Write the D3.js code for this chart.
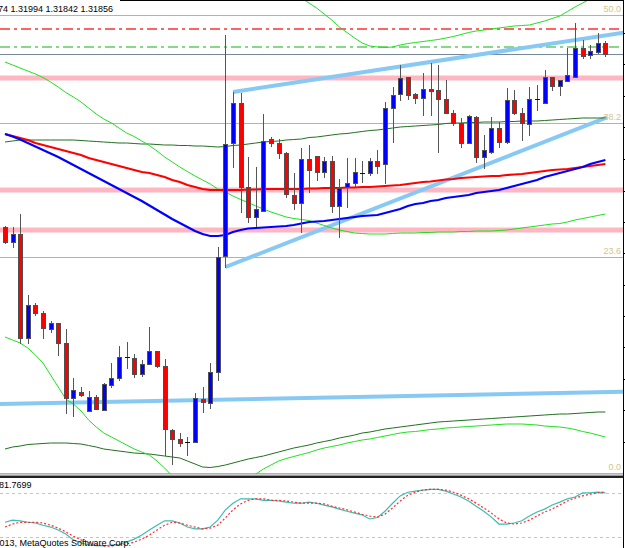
<!DOCTYPE html>
<html>
<head>
<meta charset="utf-8">
<script src="https://cdn.jsdelivr.net/npm/d3@7"></script>
<style>
  body { margin: 0; background: #fff; overflow: hidden; }
  svg { display: block; }
</style>
</head>
<body>
<div class="container"></div>
<script>
// EURUSD H4 bars, oldest first
const opens = [1.3013,1.2998,1.3006,1.2902,1.2935,1.2927,1.2911,1.2917,1.2897,1.2842,
  1.2848,1.2829,1.2843,1.2830,1.2855,1.2862,1.2883,1.2882,1.2866,1.2876,
  1.2889,1.2874,1.2810,1.2801,1.2798,1.2798,1.2841,1.2837,1.2868,1.2984,
  1.3097,1.3137,1.3053,1.3023,1.3029,1.3101,1.3097,1.3087,1.3045,1.3037,
  1.3081,1.3084,1.3068,1.3079,1.3034,1.3053,1.3057,1.3067,1.3067,1.3079,
  1.3076,1.3132,1.3146,1.3163,1.3146,1.3142,1.3151,1.3150,1.3141,1.3127,
  1.3117,1.3097,1.3123,1.3083,1.3088,1.3112,1.3098,1.3140,1.3127,1.3116,
  1.3141,1.3137,1.3163,1.3154,1.3159,1.3163,1.3192,1.3185,1.3188,1.31974];
const highs = [1.3014,1.3013,1.3026,1.2945,1.2937,1.2929,1.2919,1.2917,1.2911,1.2862,
  1.2853,1.2849,1.2845,1.2857,1.2877,1.2894,1.2898,1.2886,1.2880,1.2913,
  1.2889,1.2881,1.2811,1.2807,1.2803,1.2847,1.2853,1.2877,1.2993,1.3205,
  1.3148,1.3147,1.3083,1.3073,1.3126,1.3103,1.3101,1.3088,1.3067,1.3092,
  1.3095,1.3084,1.3083,1.3084,1.3061,1.3082,1.3082,1.3079,1.3082,1.3090,
  1.3138,1.3153,1.3175,1.3163,1.3147,1.3167,1.3177,1.3175,1.3160,1.3130,
  1.3122,1.3125,1.3124,1.3105,1.3123,1.3118,1.3152,1.3150,1.3132,1.3153,
  1.3155,1.3170,1.3163,1.3160,1.3192,1.3217,1.3200,1.3195,1.3207,1.31994];
const lows = [1.2997,1.2993,1.2897,1.2897,1.2925,1.2902,1.2908,1.2885,1.2827,1.2824,
  1.2844,1.2829,1.2831,1.2830,1.2853,1.2860,1.2872,1.2863,1.2864,1.2876,
  1.2873,1.2785,1.2776,1.2794,1.2785,1.2798,1.2828,1.2832,1.2860,1.2973,
  1.3073,1.3028,1.3018,1.3014,1.3029,1.3094,1.3082,1.3043,1.3031,1.3008,
  1.3048,1.3060,1.3063,1.3028,1.3003,1.3033,1.3053,1.3058,1.3065,1.3067,
  1.3057,1.3098,1.3140,1.3141,1.3137,1.3125,1.3125,1.3088,1.3127,1.3115,
  1.3093,1.3097,1.3078,1.3072,1.3087,1.3093,1.3097,1.3126,1.3100,1.3105,
  1.3130,1.3137,1.3150,1.3145,1.3159,1.3163,1.3182,1.3182,1.3187,1.31842];
const closes = [1.2998,1.3006,1.2902,1.2935,1.2927,1.2912,1.2917,1.2897,1.2842,1.2850,
  1.2845,1.2843,1.2831,1.2856,1.2862,1.2883,1.2882,1.2866,1.2876,1.2889,
  1.2874,1.2811,1.2801,1.2797,1.2797,1.2842,1.2838,1.2868,1.2983,1.3096,
  1.3137,1.3053,1.3023,1.3031,1.3099,1.3097,1.3087,1.3046,1.3037,1.3081,
  1.3070,1.3068,1.3079,1.3034,1.3052,1.3057,1.3068,1.3067,1.3079,1.3074,
  1.3132,1.3145,1.3162,1.3145,1.3142,1.3151,1.3149,1.3141,1.3127,1.3117,
  1.3097,1.3124,1.3083,1.3090,1.3112,1.3098,1.3140,1.3127,1.3117,1.3141,
  1.3141,1.3163,1.3154,1.3160,1.3165,1.3192,1.3184,1.3189,1.3197,1.31856];

// moving averages
const redMA = [1.3106,1.3104,1.3102,1.3100,1.3097,1.3095,1.3093,1.3091,1.3089,1.3087,
  1.3085,1.3082,1.3080,1.3078,1.3076,1.3074,1.3072,1.3070,1.3068,1.3067,
  1.3065,1.3063,1.3060,1.3058,1.3055,1.3053,1.3051,1.3050,1.3050,1.3050,
  1.3050,1.3050,1.30505,1.30505,1.3051,1.3051,1.3051,1.3051,1.3051,1.3051,
  1.30515,1.30515,1.3052,1.3052,1.3052,1.30525,1.30525,1.3053,1.3053,1.30535,
  1.3054,1.30545,1.3055,1.3056,1.3057,1.3058,1.30585,1.30595,1.30605,1.3061,
  1.3062,1.30625,1.3063,1.30635,1.3064,1.3064,1.3065,1.30655,1.3066,1.3067,
  1.3068,1.3069,1.3070,1.30705,1.3071,1.3072,1.3073,1.3074,1.3075,1.3076];
const blueMA = [1.3106,1.31035,1.31005,1.3097,1.30935,1.3090,1.30865,1.3083,1.3079,1.3075,
  1.3071,1.3067,1.3063,1.3059,1.3055,1.3051,1.3047,1.3043,1.3039,1.30345,
  1.3030,1.30255,1.3021,1.3017,1.3013,1.3009,1.3006,1.3004,1.3004,1.3005,
  1.3008,1.3010,1.30115,1.3012,1.30125,1.3013,1.30135,1.3014,1.3015,1.30165,
  1.3018,1.30185,1.3019,1.3020,1.3021,1.3022,1.3023,1.3024,1.30245,1.3025,
  1.3027,1.3029,1.3031,1.3034,1.3036,1.3037,1.3039,1.3040,1.3042,1.3043,
  1.3044,1.3045,1.3047,1.3048,1.3049,1.3050,1.3052,1.3054,1.3056,1.3058,
  1.3060,1.3063,1.3065,1.3067,1.3069,1.3071,1.3073,1.3076,1.3078,1.3080];

// bands: dark green pair, light green pairs
const darkUpper = [1.3098,1.3099,1.3100,1.3100,1.3100,1.3100,1.3100,1.3100,1.3100,1.3100,
  1.30995,1.3099,1.30985,1.3098,1.30975,1.3097,1.3097,1.30965,1.3096,1.3096,
  1.30955,1.3095,1.3095,1.30945,1.30945,1.3094,1.3094,1.30935,1.3093,1.30935,
  1.30945,1.3095,1.3096,1.3097,1.3098,1.30985,1.3099,1.3100,1.31005,1.3101,
  1.31025,1.3103,1.3104,1.3105,1.3106,1.31065,1.31075,1.31085,1.31095,1.3110,
  1.3111,1.3112,1.3113,1.31135,1.3114,1.31145,1.3115,1.31155,1.31165,1.3117,
  1.3117,1.31175,1.31175,1.3118,1.3118,1.3118,1.31185,1.31185,1.3119,1.3119,
  1.3119,1.31195,1.3120,1.31205,1.3121,1.31215,1.3122,1.3122,1.3122,1.3122];
const darkLower = [1.2791,1.2793,1.2794,1.27955,1.2796,1.27965,1.2797,1.2797,1.2797,1.27965,
  1.2796,1.27945,1.2793,1.2791,1.2790,1.2789,1.2788,1.2787,1.27865,1.2786,
  1.2785,1.2784,1.2783,1.2782,1.2779,1.2776,1.2773,1.27725,1.27735,1.2775,
  1.2777,1.2779,1.2781,1.27825,1.2784,1.2786,1.2788,1.2790,1.2792,1.27935,
  1.2795,1.2797,1.27985,1.2800,1.2802,1.28035,1.2805,1.2807,1.2808,1.28095,
  1.2811,1.2812,1.2813,1.2814,1.2815,1.2816,1.2817,1.2818,1.28185,1.2819,
  1.28195,1.2820,1.28205,1.2821,1.28215,1.2822,1.28225,1.2823,1.28235,1.2824,
  1.28245,1.2825,1.28255,1.2826,1.2826,1.28265,1.2827,1.28275,1.2828,1.2828];
const limeUpperA = [1.3178,1.3175,1.3172,1.3169,1.3166,1.31625,1.3158,1.3153,1.31475,1.3143,
  1.3138,1.3132,1.3126,1.3121,1.3117,1.3112,1.3107,1.31035,1.3099,1.30945,
  1.3089,1.3083,1.3078,1.3073,1.30685,1.3064,1.3060,1.3056,1.3051,1.3048,
  1.3044,1.30405,1.30375,1.3034,1.3031,1.3028,1.30255,1.3023,1.30215,1.30205,
  1.30195,1.3017,1.30145,1.3012,1.3010,1.30085,1.3007,1.30065,1.3006,1.3006,
  1.3006,1.30065,1.3007,1.3007,1.3007,1.30075,1.30075,1.3008,1.3008,1.3008,
  1.30085,1.30085,1.3009,1.3009,1.3009,1.30095,1.3010,1.3011,1.3012,1.3013,
  1.3014,1.3015,1.3016,1.30165,1.3018,1.3020,1.30215,1.3023,1.30245,1.3026];
const limeUpperB = Array(38).fill(null).concat([
  1.3248,1.3242,1.3237,1.3232,1.3226,1.3220,1.3213,1.32075,1.3202,1.3197,
  1.3194,1.3193,1.31925,1.3193,1.3195,1.31965,1.31975,1.31985,1.31995,1.32005,
  1.3202,1.32035,1.32055,1.32075,1.3209,1.3210,1.3211,1.3212,1.3213,1.3214,
  1.32145,1.3215,1.3217,1.3219,1.32215,1.3224,1.32285,1.3233,1.3237,1.3241,
  1.3245,1.3249]);
const limeLower = [1.2903,1.2900,1.2897,1.2892,1.2885,1.2877,1.2865,1.2853,1.2841,1.2836,
  1.2829,1.2820,1.2813,1.2807,1.2803,1.2799,1.2795,1.2791,1.2788,1.2785,
  1.2779,1.2772,1.2764,1.2759,1.2755,1.2752,1.2750,1.2749,1.2750,1.2752,
  1.2755,1.2759,1.2763,1.2766,1.2771,1.2775,1.2779,1.27815,1.27835,1.27855,
  1.27875,1.2790,1.2792,1.27935,1.2795,1.2797,1.27985,1.2800,1.2801,1.28025,
  1.2804,1.28055,1.2807,1.2808,1.28085,1.28095,1.28105,1.2811,1.2812,1.28125,
  1.2813,1.28135,1.2814,1.28145,1.2815,1.28155,1.2816,1.2816,1.2816,1.28155,
  1.2815,1.2814,1.28135,1.2813,1.2812,1.28105,1.28085,1.2807,1.2805,1.2803];

// stochastic
const stochMain = [40,43,42,40,39,36,33.5,29.5,24,16,
  12,9,8,8,9,10,13,17,22.5,29.5,
  36,42,42,39,33.5,31,31,33.5,43,57,
  66,72,72,72,70,70,69,67.5,66,66,
  67.5,66,63.5,61,58,55,52.5,50,44.5,46.5,
  55,66,76,81,82.5,84,85,85,82.5,78.5,
  74.5,69,62,55,47,37.6,37.6,39,42,48.5,
  54,58,63.5,67.5,72,74.5,80,80,81,80];
const stochSignal = [33.5,37.6,40,40,40,39,36,32,27,21,
  16,12,9,7.6,7.6,9,10.4,13,17,22.5,
  29.5,36,40,39,36,33.5,31,32,36,46,
  57,65,70,72,72,70,70,69,67.5,66,
  66,66,65,62,59.5,57,54,51,48.5,47,
  51,59.5,69,77,81,84,85,85,84,81,
  77,72,66,59.5,52.5,44.5,39,37.6,39,43,
  48.5,54,58,63.5,69,73,76,78.5,80,81.77];
const stochLevels = [20, 80];

// objects
const fibLow = 1.2767, fibHigh = 1.3683;
const fibLevels = [0.0, 23.6, 38.2, 50.0];
const redDashLevel = 1.3211;
const greenDashLevel = 1.3193;
const pinkLevels = [1.3162, 1.3050, 1.3010];
const channelUpper = [[30, 1.3148], [75, 1.3200]];
const channelLower = [[29, 1.2973], [79, 1.3122]];
const supportLine = [[0, 1.2836], [79, 1.2848]];
const priceTicks = [1.3207,1.3176,1.3144,1.3113,1.3081,1.3049,1.3018,1.2987,1.2955,1.2924,1.2893,1.2861,1.2830,1.2798];

const headerText = 'EURUSD,H4  1.31974 1.31994 1.31842 1.31856';
const stochText = 'Stoch(14,3,3) 83.4512 81.7699';
const copyText = '\u00a9 2001-2013, MetaQuotes Software Corp.';

const width = 625, height = 548;
const plotRight = 623, mainBottom = 474;
const crisp = v => Math.round(v) + 0.5;

const svg = d3.select('.container').append('svg')
  .attr('width', width).attr('height', height)
  .attr('font-family', '"Liberation Sans", Arial, sans-serif');

const x = d3.scaleLinear().domain([0, 79]).range([5, 605.4]);
const y = d3.scaleLinear().domain([1.2767, 1.3240]).range([473, 0]);
const ys = d3.scaleLinear().domain([0, 100]).range([551.6, 478.3]);

svg.append('rect').attr('width', width).attr('height', height).attr('fill', '#fff');

const defs = svg.append('defs');
defs.append('clipPath').attr('id', 'mainClip').append('rect')
  .attr('x', 0).attr('y', 0).attr('width', plotRight).attr('height', mainBottom);
defs.append('clipPath').attr('id', 'subClip').append('rect')
  .attr('x', 0).attr('y', 478).attr('width', plotRight).attr('height', 70);

const main = svg.append('g').attr('clip-path', 'url(#mainClip)');

// fibo levels
const fibPrice = lv => fibLow + (fibHigh - fibLow) * lv / 100;
main.append('g').selectAll('line').data(fibLevels).join('line')
  .attr('x1', 0).attr('x2', plotRight)
  .attr('y1', d => crisp(y(fibPrice(d)))).attr('y2', d => crisp(y(fibPrice(d))))
  .attr('stroke', '#c4b574').attr('stroke-width', 1);

// pink bands
main.append('g').selectAll('line').data(pinkLevels).join('line')
  .attr('x1', 0).attr('x2', plotRight)
  .attr('y1', d => y(d)).attr('y2', d => y(d))
  .attr('stroke', '#ffb6c1').attr('stroke-width', 5);

// dash-dot levels
main.append('line').attr('x1', 0).attr('x2', plotRight)
  .attr('y1', y(redDashLevel)).attr('y2', y(redDashLevel))
  .attr('stroke', '#ff6464').attr('stroke-width', 2).attr('stroke-dasharray', '10,4,3,4');
main.append('line').attr('x1', 0).attr('x2', plotRight)
  .attr('y1', y(greenDashLevel)).attr('y2', y(greenDashLevel))
  .attr('stroke', '#86d986').attr('stroke-width', 2).attr('stroke-dasharray', '10,4,3,4');

// bid line
main.append('line').attr('x1', 0).attr('x2', plotRight)
  .attr('y1', crisp(y(closes[79]))).attr('y2', crisp(y(closes[79])))
  .attr('stroke', '#778899').attr('stroke-width', 1);

// trend lines, extended in bar units
function extend(pts, from, to) {
  const [[i1, p1], [i2, p2]] = pts;
  const k = (p2 - p1) / (i2 - i1);
  return [[from, p1 + k * (from - i1)], [to, p1 + k * (to - i1)]];
}
const rightEdge = x.invert(width);
const trend = d3.line().x(d => x(d[0])).y(d => y(d[1]));
main.append('g').selectAll('path')
  .data([extend(channelUpper, 30, rightEdge), extend(channelLower, 29, 79.2), extend(supportLine, x.invert(0), rightEdge)])
  .join('path')
  .attr('d', trend)
  .attr('fill', 'none').attr('stroke', '#88c9f4').attr('stroke-width', 4);

// indicator lines
const series = d3.line().defined(d => d != null).x((d, i) => x(i)).y(d => y(d));
const bands = [
  { v: darkUpper, c: '#217021', w: 1 },
  { v: darkLower, c: '#217021', w: 1 },
  { v: limeUpperA, c: '#1fe01f', w: 1 },
  { v: limeUpperB, c: '#1fe01f', w: 1 },
  { v: limeLower, c: '#1fe01f', w: 1 },
  { v: redMA, c: '#ff0000', w: 2.2 },
  { v: blueMA, c: '#0000ff', w: 2.2 }
];
main.append('g').selectAll('path').data(bands).join('path')
  .attr('d', d => series(d.v))
  .attr('fill', 'none')
  .attr('stroke', d => d.c).attr('stroke-width', d => d.w);

// candles
const bars = d3.range(opens.length).map(i => ({
  i, o: opens[i], h: highs[i], l: lows[i], c: closes[i]
}));
const cg = main.append('g');
cg.selectAll('line.wick').data(bars).join('line')
  .attr('class', 'wick')
  .attr('x1', d => Math.round(x(d.i)) + 0.5).attr('x2', d => Math.round(x(d.i)) + 0.5)
  .attr('y1', d => Math.round(y(d.h))).attr('y2', d => Math.round(y(d.l)) + 1)
  .attr('stroke', '#555').attr('stroke-width', 1);
const doji = d => Math.abs(d.o - d.c) < 0.00015;
cg.selectAll('rect').data(bars.filter(d => !doji(d))).join('rect')
  .attr('x', d => Math.round(x(d.i)) - 1.5)
  .attr('y', d => Math.round(y(Math.max(d.o, d.c))) + 0.5)
  .attr('width', 4)
  .attr('height', d => Math.max(1, Math.round(y(Math.min(d.o, d.c))) - Math.round(y(Math.max(d.o, d.c)))))
  .attr('fill', d => d.c > d.o ? '#0000ff' : '#ff0000')
  .attr('stroke', '#4f4f4f').attr('stroke-width', 1);
cg.selectAll('line.doji').data(bars.filter(doji)).join('line')
  .attr('class', 'doji')
  .attr('x1', d => Math.round(x(d.i)) - 2).attr('x2', d => Math.round(x(d.i)) + 3)
  .attr('y1', d => crisp(y(d.o))).attr('y2', d => crisp(y(d.o)))
  .attr('stroke', '#111').attr('stroke-width', 1);

// fibo labels on top of everything
main.append('g').selectAll('text').data(fibLevels).join('text')
  .attr('x', 621).attr('y', d => Math.round(y(fibPrice(d))) - 3)
  .attr('text-anchor', 'end').attr('font-size', 9).attr('fill', '#d3c48c')
  .text(d => d3.format('.1f')(d));

// header (the symbol part runs off the left edge, as in the screenshot)
svg.append('text').attr('x', 113).attr('y', 12).attr('text-anchor', 'end')
  .attr('font-size', 9).attr('fill', '#000').text(headerText);

// window separator
svg.append('rect').attr('x', 0).attr('y', 474.5).attr('width', plotRight).attr('height', 1.5).attr('fill', '#9a9a9a');
svg.append('rect').attr('x', 0).attr('y', 476).attr('width', plotRight).attr('height', 2).attr('fill', '#222');
svg.append('line').attr('x1', 120).attr('x2', plotRight).attr('y1', 0.5).attr('y2', 0.5)
  .attr('stroke', '#000');

// stochastic window
const sub = svg.append('g').attr('clip-path', 'url(#subClip)');
sub.selectAll('line.lvl').data(stochLevels).join('line')
  .attr('class', 'lvl')
  .attr('x1', 0).attr('x2', plotRight)
  .attr('y1', d => crisp(ys(d))).attr('y2', d => crisp(ys(d)))
  .attr('stroke', '#c4c4c4').attr('stroke-dasharray', '3,3');
const sline = d3.line().x((d, i) => x(i)).y(d => ys(d));
sub.append('path').attr('d', sline(stochMain))
  .attr('fill', 'none').attr('stroke', '#3cbcb4').attr('stroke-width', 1.2);
sub.append('path').attr('d', sline(stochSignal))
  .attr('fill', 'none').attr('stroke', '#ff2a2a').attr('stroke-width', 1.2)
  .attr('stroke-dasharray', '2,2');

svg.append('text').attr('x', 31.5).attr('y', 488).attr('text-anchor', 'end')
  .attr('font-size', 9).attr('fill', '#000').text(stochText);
svg.append('text').attr('x', 131).attr('y', 546).attr('text-anchor', 'end')
  .attr('font-size', 9).attr('fill', '#000').text(copyText);

// price axis on the right; its labels sit past the window edge, so only ticks show
svg.append('g')
  .attr('transform', `translate(${plotRight + 0.5},0)`)
  .call(d3.axisRight(y).tickValues(priceTicks).tickSize(3).tickFormat(''))
  .call(g => g.select('.domain').attr('d', `M0,0V${height}`));
</script>
</body>
</html>
